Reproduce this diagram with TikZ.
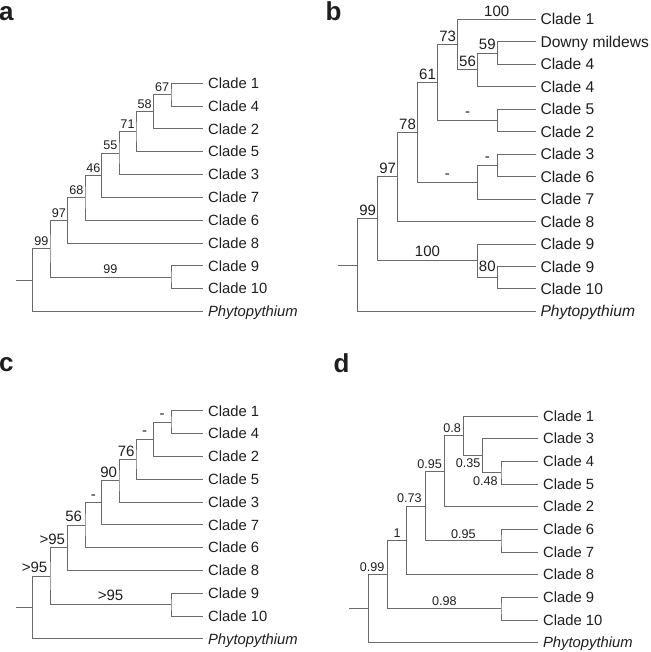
\documentclass[tikz,border=0pt]{standalone}
\usepackage{fontspec}
\setmainfont{Liberation Sans}
\usetikzlibrary{calc}
\definecolor{txt}{HTML}{1E1E1E}
\definecolor{ln}{HTML}{6A6A6A}
\tikzset{
  br/.style={draw=ln, line width=0.8pt},
  leafA/.style={anchor=west, inner xsep=4.8pt, inner ysep=0pt, outer sep=0pt,
    text height=10.6pt, text depth=0pt, text=txt, font=\fontsize{14.8}{14.8}\selectfont},
  leafB/.style={anchor=west, inner xsep=4.8pt, inner ysep=0pt, outer sep=0pt,
    text height=11.2pt, text depth=0pt, text=txt, font=\fontsize{15.6}{15.6}\selectfont},
  lab/.style={inner sep=0pt, outer sep=0pt, anchor=south, yshift=3pt, text=txt},
  sm/.style={font=\fontsize{12.6}{12.6}\selectfont},
  bg/.style={font=\fontsize{15}{15}\selectfont},
  rt/.style={anchor=south east},
  panel/.style={anchor=base west, inner sep=0pt, text=txt, font=\fontsize{26}{26}\selectfont\bfseries}
}
\newcommand\mlab[4][]{\node[lab,#1] at ($(#2 |- #3)!.5!(#3)$) {#4};}
\newcommand\ACtree[1]{%
  \node[leafA] (#1L1) at (203.3,83.3) {Clade 1};
  \node[leafA] (#1L4) at (203.3,106.1) {Clade 4};
  \node[leafA] (#1L2) at (203.3,128.9) {Clade 2};
  \node[leafA] (#1L5) at (203.3,151.7) {Clade 5};
  \node[leafA] (#1L3) at (203.3,174.5) {Clade 3};
  \node[leafA] (#1L7) at (203.3,197.3) {Clade 7};
  \node[leafA] (#1L6) at (203.3,220.1) {Clade 6};
  \node[leafA] (#1L8) at (203.3,242.9) {Clade 8};
  \node[leafA] (#1L9) at (203.3,265.7) {Clade 9};
  \node[leafA] (#1L10) at (203.3,288.5) {Clade 10};
  \node[leafA] (#1LP) at (203.3,311.3) {\itshape Phytopythium};
  \coordinate (#1n14) at (171,94.7);
  \coordinate (#1n142) at (153.3,111.8);
  \coordinate (#1n1425) at (136,131.75);
  \coordinate (#1n3) at (119,153.1);
  \coordinate (#1n7) at (101.7,175.2);
  \coordinate (#1n6) at (85,197.65);
  \coordinate (#1n8) at (67.7,220.3);
  \coordinate (#1n910) at (171,277.1);
  \coordinate (#1nin) at (50,248.7);
  \coordinate (#1r) at (32.7,280);
  \coordinate (#1s) at (16,280);
  \draw[br] (#1L1.west) -| (#1n14) |- (#1L4.west);
  \draw[br] (#1n14) -| (#1n142) |- (#1L2.west);
  \draw[br] (#1n142) -| (#1n1425) |- (#1L5.west);
  \draw[br] (#1n1425) -| (#1n3) |- (#1L3.west);
  \draw[br] (#1n3) -| (#1n7) |- (#1L7.west);
  \draw[br] (#1n7) -| (#1n6) |- (#1L6.west);
  \draw[br] (#1n6) -| (#1n8) |- (#1L8.west);
  \draw[br] (#1L9.west) -| (#1n910) |- (#1L10.west);
  \draw[br] (#1n8) -| (#1nin) |- (#1n910);
  \draw[br] (#1nin) -| (#1r) |- (#1LP.west);
  \draw[br] (#1s) -- (#1r);
}
\begin{document}
\begin{tikzpicture}[x=1pt,y=-1pt]
\useasboundingbox (0,0) rectangle (650,652);

% ---------------- panel a
\node[panel] (pa) at (-1,21) {a};
\ACtree{a}
\mlab[sm]{an142}{an14}{67}
\mlab[sm]{an1425}{an142}{58}
\mlab[sm]{an3}{an1425}{71}
\mlab[sm]{an7}{an3}{55}
\mlab[sm]{an6}{an7}{46}
\mlab[sm]{an8}{an6}{68}
\mlab[sm]{anin}{an8}{97}
\mlab[sm]{ar}{anin}{99}
\mlab[sm]{anin}{an910}{99}

% ---------------- panel c
\node[panel] (pc) at (-1,371) {c};
\begin{scope}[shift={(0,327.4)}]
\ACtree{c}
\end{scope}
\mlab[bg,yshift=0.5pt]{cn142}{cn14}{-}
\mlab[bg,yshift=0.5pt]{cn1425}{cn142}{-}
\node[lab,bg,rt,xshift=-1.5pt] at (cn1425) {76};
\node[lab,bg,rt,xshift=-2pt] at (cn3) {90};
\mlab[bg,yshift=0.5pt]{cn6}{cn7}{-}
\node[lab,bg,rt,xshift=-3pt] at (cn6) {56};
\node[lab,bg,rt,xshift=-2.7pt] at (cn8) {>95};
\node[lab,bg,rt,xshift=-2.7pt] at (cnin) {>95};
\mlab[bg,yshift=1pt]{cnin}{cn910}{>95}

% ---------------- panel b
\node[panel] (pb) at (325.5,20.7) {b};
\node[leafB] (b1) at (535.7,19.3) {Clade 1};
\node[leafB] (bDM) at (535.7,41.8) {Downy mildews};
\node[leafB] (b4a) at (535.7,64.2) {Clade 4};
\node[leafB] (b4b) at (535.7,86.7) {Clade 4};
\node[leafB] (b5) at (535.7,109.1) {Clade 5};
\node[leafB] (b2) at (535.7,131.6) {Clade 2};
\node[leafB] (b3) at (535.7,154.1) {Clade 3};
\node[leafB] (b6) at (535.7,176.5) {Clade 6};
\node[leafB] (b7) at (535.7,199.0) {Clade 7};
\node[leafB] (b8) at (535.7,221.4) {Clade 8};
\node[leafB] (b9a) at (535.7,243.9) {Clade 9};
\node[leafB] (b9b) at (535.7,266.4) {Clade 9};
\node[leafB] (b10) at (535.7,288.8) {Clade 10};
\node[leafB] (bP) at (535.7,311.3) {\itshape Phytopythium};
\coordinate (bn59) at (497.3,53.0);
\coordinate (bn56) at (477.3,69.85);
\coordinate (bn73) at (457.7,44.6);
\coordinate (bn52) at (497.3,120.35);
\coordinate (bn61) at (437.7,82.5);
\coordinate (bn36) at (497.3,165.3);
\coordinate (bn367) at (477.3,182.15);
\coordinate (bn78) at (417.3,132.3);
\coordinate (bn97) at (397.7,176.85);
\coordinate (bn80) at (497.3,277.6);
\coordinate (bn100) at (477.3,260.75);
\coordinate (bn99) at (377.7,218.8);
\coordinate (br) at (357.7,265.05);
\coordinate (bs) at (338.3,265.05);
\draw[br] (bDM.west) -| (bn59) |- (b4a.west);
\draw[br] (bn59) -| (bn56) |- (b4b.west);
\draw[br] (b1.west) -| (bn73) |- (bn56);
\draw[br] (b5.west) -| (bn52) |- (b2.west);
\draw[br] (bn73) -| (bn61) |- (bn52);
\draw[br] (b3.west) -| (bn36) |- (b6.west);
\draw[br] (bn36) -| (bn367) |- (b7.west);
\draw[br] (bn61) -| (bn78) |- (bn367);
\draw[br] (bn78) -| (bn97) |- (b8.west);
\draw[br] (b9b.west) -| (bn80) |- (b10.west);
\draw[br] (b9a.west) -| (bn100) |- (bn80);
\draw[br] (bn97) -| (bn99) |- (bn100);
\draw[br] (bn99) -| (br) |- (bP.west);
\draw[br] (bs) -- (br);
\mlab[bg]{bn73}{b1.west}{100}
\mlab[bg,yshift=0.5pt]{bn56}{bn59}{59}
\mlab[bg]{bn73}{bn56}{56}
\mlab[bg]{bn61}{bn73}{73}
\mlab[bg,yshift=1pt]{bn61}{bn52}{-}
\mlab[bg]{bn78}{bn61}{61}
\mlab[bg,yshift=1pt]{bn367}{bn36}{-}
\mlab[bg,yshift=1pt]{bn78}{bn367}{-}
\mlab[bg]{bn97}{bn78}{78}
\mlab[bg,yshift=0.5pt]{bn99}{bn97}{97}
\mlab[bg]{br}{bn99}{99}
\mlab[bg,yshift=1pt]{bn99}{bn100}{100}
\mlab[bg,yshift=2.5pt]{bn100}{bn80}{80}

% ---------------- panel d
\node[panel] (pd) at (333.5,372.3) {d};
\node[leafA] (d1) at (538.3,416) {Clade 1};
\node[leafA] (d3) at (538.3,438.67) {Clade 3};
\node[leafA] (d4) at (538.3,461.33) {Clade 4};
\node[leafA] (d5) at (538.3,484) {Clade 5};
\node[leafA] (d2) at (538.3,506.67) {Clade 2};
\node[leafA] (d6) at (538.3,529.33) {Clade 6};
\node[leafA] (d7) at (538.3,552) {Clade 7};
\node[leafA] (d8) at (538.3,574.67) {Clade 8};
\node[leafA] (d9) at (538.3,597.33) {Clade 9};
\node[leafA] (d10) at (538.3,620) {Clade 10};
\node[leafA] (dP) at (538.3,642.67) {\itshape Phytopythium};
\coordinate (dn45) at (501,472.67);
\coordinate (dn345) at (482.3,455.67);
\coordinate (dn1345) at (463.3,435.83);
\coordinate (dn2) at (444.3,471.25);
\coordinate (dn67) at (501,540.67);
\coordinate (dn73) at (425.7,505.96);
\coordinate (dn1) at (406.7,540.3);
\coordinate (dn910) at (501,608.67);
\coordinate (dn99) at (387.7,574.5);
\coordinate (dr) at (368.3,608.6);
\coordinate (ds) at (349,608.6);
\draw[br] (d4.west) -| (dn45) |- (d5.west);
\draw[br] (d3.west) -| (dn345) |- (dn45);
\draw[br] (d1.west) -| (dn1345) |- (dn345);
\draw[br] (dn1345) -| (dn2) |- (d2.west);
\draw[br] (d6.west) -| (dn67) |- (d7.west);
\draw[br] (dn2) -| (dn73) |- (dn67);
\draw[br] (dn73) -| (dn1) |- (d8.west);
\draw[br] (d9.west) -| (dn910) |- (d10.west);
\draw[br] (dn1) -| (dn99) |- (dn910);
\draw[br] (dn99) -| (dr) |- (dP.west);
\draw[br] (ds) -- (dr);
\node[lab,sm,anchor=north east,xshift=-3.3pt,yshift=-7pt] at (dn45) {0.48};
\node[lab,sm,anchor=north east,xshift=-2pt,yshift=-5.7pt] at (dn345) {0.35};
\node[lab,sm,rt,xshift=-2.5pt] at (dn1345) {0.8};
\node[lab,sm,rt,xshift=-2.5pt] at (dn2) {0.95};
\node[lab,sm,rt,xshift=-4pt] at (dn73) {0.73};
\mlab[sm]{dn99}{dn1}{1}
\node[lab,sm,rt,xshift=-3.3pt] at (dn99) {0.99};
\mlab[sm,yshift=-0.5pt]{dn73}{dn67}{0.95}
\mlab[sm]{dn99}{dn910}{0.98}
\end{tikzpicture}
\end{document}
